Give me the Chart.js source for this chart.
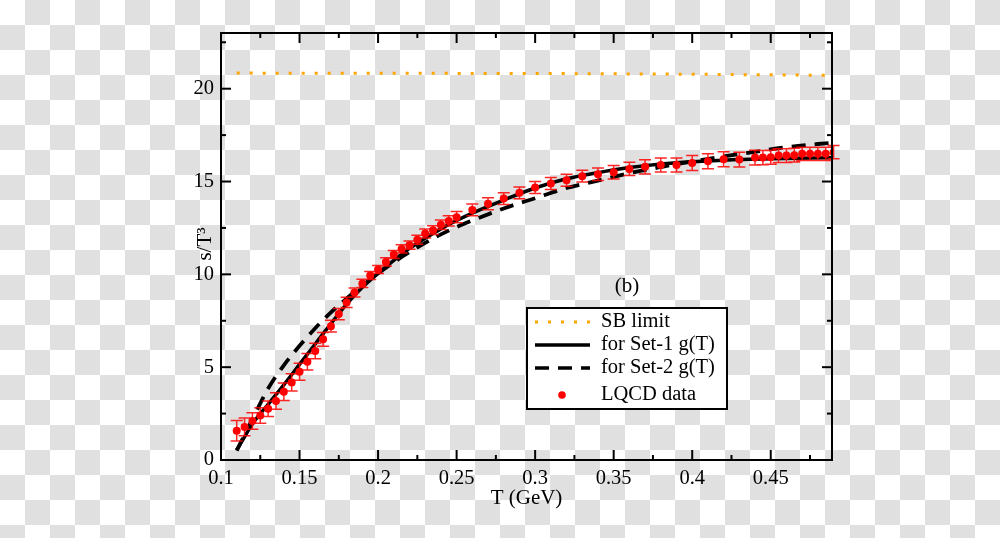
<!DOCTYPE html>
<html><head><meta charset="utf-8">
<script src="https://cdn.jsdelivr.net/npm/chart.js@4"></script>
<style>
html,body{margin:0;padding:0;}
body{width:1000px;height:538px;overflow:hidden;background:repeating-conic-gradient(#e0e0e0 0% 25%, #ffffff 0% 50%) 0 0/50px 50px;}
#wrap{position:relative;width:1000px;height:538px;}
</style></head><body><div id="wrap"><canvas id="c"></canvas></div>
<script>
// ---- data ----
const lqcdT = [0.110,0.115,0.120,0.125,0.130,0.135,0.140,0.145,0.150,0.155,0.160,0.165,0.170,0.175,0.180,0.185,0.190,0.195,0.200,0.205,0.210,0.215,0.220,0.225,0.230,0.235,0.240,0.245,0.250,
  0.26,0.27,0.28,0.29,0.30,0.31,0.32,0.33,0.34,0.35,0.36,0.37,0.38,0.39,0.40,0.41,0.42,0.43,0.44,
  0.445,0.450,0.455,0.460,0.465,0.470,0.475,0.480,0.485,0.490];
const lqcdS = [1.58,1.78,2.10,2.40,2.76,3.18,3.68,4.18,4.75,5.29,5.87,6.50,7.21,7.86,8.49,9.02,9.51,9.94,10.26,10.67,11.07,11.37,11.57,11.86,12.20,12.38,12.67,12.88,13.08,
  13.47,13.80,14.08,14.39,14.68,14.89,15.07,15.29,15.39,15.50,15.68,15.79,15.89,15.89,16.00,16.09,16.20,16.18,16.29,
  16.29,16.31,16.40,16.40,16.42,16.49,16.49,16.49,16.49,16.58];
const lqcdErr = [0.55,0.48,0.45,0.42,0.42,0.44,0.47,0.47,0.46,0.44,0.42,0.37,0.32,0.30,0.27,0.24,0.22,0.22,0.22,0.22,0.22,0.22,0.22,0.24,0.24,0.24,0.26,0.27,0.30,
  0.32,0.32,0.32,0.32,0.32,0.32,0.32,0.32,0.34,0.36,0.36,0.38,0.38,0.38,0.40,0.40,0.40,0.40,0.40,
  0.38,0.38,0.37,0.37,0.37,0.36,0.36,0.36,0.36,0.36];

const set1T = [0.11,0.115,0.12,0.13,0.14,0.15,0.16,0.17,0.18,0.19,0.20,0.21,0.22,0.23,0.24,0.25,0.26,0.28,0.30,0.32,0.34,0.36,0.38,0.40,0.42,0.45,0.49];
const set1S = [0.55,1.25,1.95,3.0,4.05,5.15,6.25,7.35,8.4,9.3,10.05,10.75,11.4,11.95,12.45,12.9,13.3,14.0,14.65,15.15,15.48,15.75,15.95,16.07,16.15,16.22,16.28];

const set2T = [0.11,0.12,0.13,0.14,0.15,0.16,0.17,0.18,0.19,0.20,0.21,0.22,0.23,0.24,0.25,0.26,0.28,0.30,0.32,0.34,0.36,0.38,0.40,0.42,0.44,0.46,0.49];
const set2S = [0.5,2.2,3.85,5.1,6.15,7.1,7.95,8.7,9.4,10.05,10.65,11.2,11.7,12.15,12.55,12.9,13.55,14.1,14.65,15.05,15.45,15.78,16.08,16.35,16.6,16.85,17.1];

const sbT = [0.11,0.30,0.40,0.489];
const sbS = [20.84,20.82,20.78,20.72];

const xTickValues = [0.10,0.15,0.20,0.25,0.30,0.35,0.40,0.45];
const xTickLabels = ["0.1","0.15","0.2","0.25","0.3","0.35","0.4","0.45"];
const xMinorTicks = [0.125,0.175,0.225,0.275,0.325,0.375,0.425,0.475];
const yTickValues = [0,5,10,15,20];
const yTickLabels = ["0","5","10","15","20"];
const yMinorTicks = [2.5,7.5,12.5,17.5,22.5];

const xTitle = "T (GeV)";
const yTitle = "s/T\u00B3";
const panelLabel = "(b)";
const legendLabels = ["SB limit","for Set-1 g(T)","for Set-2 g(T)","LQCD data"];

const FONT = "'Liberation Serif', 'Times New Roman', serif";
const zip = (a,b) => a.map((v,i)=>({x:v,y:b[i]}));

// ---- plugins ----
const errorBars = {
  id:'errorBars',
  beforeDatasetDraw(chart, args){
    if (args.index !== 0) return;
    const {ctx, scales:{x,y}} = chart;
    ctx.save();
    ctx.strokeStyle = 'rgba(255,0,0,0.85)';
    ctx.lineWidth = 1.5;
    ctx.beginPath();
    lqcdT.forEach((t,i)=>{
      const px = x.getPixelForValue(t);
      const p1 = y.getPixelForValue(lqcdS[i]-lqcdErr[i]);
      const p2 = y.getPixelForValue(lqcdS[i]+lqcdErr[i]);
      ctx.moveTo(px,p1); ctx.lineTo(px,p2);
      ctx.moveTo(px-6,p1); ctx.lineTo(px+6,p1);
      ctx.moveTo(px-6,p2); ctx.lineTo(px+6,p2);
    });
    ctx.stroke();
    ctx.restore();
  }
};

const decor = {
  id:'decor',
  afterDraw(chart){
    const {ctx, chartArea:a, scales:{x,y}} = chart;
    ctx.save();
    ctx.strokeStyle='#000'; ctx.lineWidth=2;
    ctx.strokeRect(a.left, a.top, a.right-a.left, a.bottom-a.top);
    const seg=(x1,y1,x2,y2)=>{ctx.beginPath();ctx.moveTo(x1,y1);ctx.lineTo(x2,y2);ctx.stroke();};
    const MAJ=10, MIN=5;
    xTickValues.forEach(v=>{const p=x.getPixelForValue(v); if(p>a.left+1){seg(p,a.bottom,p,a.bottom-MAJ); seg(p,a.top,p,a.top+MAJ);}});
    xMinorTicks.forEach(v=>{const p=x.getPixelForValue(v); seg(p,a.bottom,p,a.bottom-MIN); seg(p,a.top,p,a.top+MIN);});
    yTickValues.forEach(v=>{const p=y.getPixelForValue(v); if(p<a.bottom-1){seg(a.left,p,a.left+MAJ,p); seg(a.right,p,a.right-MAJ,p);}});
    yMinorTicks.forEach(v=>{const p=y.getPixelForValue(v); seg(a.left,p,a.left+MIN,p); seg(a.right,p,a.right-MIN,p);});

    ctx.fillStyle='#000';
    ctx.font = "21px "+FONT;
    ctx.textAlign='center'; ctx.textBaseline='middle';
    ctx.fillText(xTitle, (a.left+a.right)/2, 498);
    ctx.save();
    ctx.translate(205, 244);
    ctx.rotate(-Math.PI/2);
    ctx.fillText(yTitle, 0, 0);
    ctx.restore();

    ctx.fillText(panelLabel, 627, 286);

    const L=527, T=308, R=727, B=409;
    ctx.fillStyle='#fff';
    ctx.fillRect(L,T,R-L,B-T);
    ctx.lineWidth=2; ctx.strokeStyle='#000';
    ctx.strokeRect(L,T,R-L,B-T);
    const rows=[322,345,368,395];
    const x1=535, x2=590;
    ctx.save();
    ctx.strokeStyle='#ffa500'; ctx.lineWidth=3; ctx.setLineDash([3,10]);
    seg(x1,rows[0],x2,rows[0]);
    ctx.restore();
    ctx.save(); ctx.strokeStyle='#000'; ctx.lineWidth=3.5; seg(x1,rows[1],x2,rows[1]); ctx.restore();
    ctx.save(); ctx.strokeStyle='#000'; ctx.lineWidth=3.5; ctx.setLineDash([14,9]); seg(x1,rows[2],x2,rows[2]); ctx.restore();
    ctx.save(); ctx.fillStyle='#ff0000'; ctx.beginPath(); ctx.arc(562,rows[3],3.8,0,Math.PI*2); ctx.fill(); ctx.restore();
    ctx.fillStyle='#000'; ctx.textAlign='left'; ctx.textBaseline='middle';
    ctx.font="20.5px "+FONT;
    legendLabels.forEach((t,i)=>ctx.fillText(t, 601, rows[i]));
    ctx.restore();
  }
};

new Chart(document.getElementById('c'), {
  type:'scatter',
  data:{ datasets:[
    {label:legendLabels[3], data:zip(lqcdT,lqcdS), showLine:false, pointRadius:4, pointBackgroundColor:'#ff0000', pointBorderColor:'#ff0000', pointBorderWidth:0, order:0},
    {label:legendLabels[1], data:zip(set1T,set1S), showLine:true, borderColor:'#000', borderWidth:3.5, pointRadius:0, cubicInterpolationMode:'monotone', order:1},
    {label:legendLabels[2], data:zip(set2T,set2S), showLine:true, borderColor:'#000', borderWidth:3.8, borderDash:[14,9], pointRadius:0, cubicInterpolationMode:'monotone', order:1},
    {label:legendLabels[0], data:zip(sbT,sbS), showLine:true, borderColor:'#ffa500', borderWidth:3, borderDash:[3,10], borderCapStyle:'butt', pointRadius:0, order:1}
  ]},
  options:{
    responsive:true, maintainAspectRatio:false, animation:false, devicePixelRatio:1,
    layout:{padding:{left:0, top:33, right:168, bottom:0}},
    plugins:{legend:{display:false}, tooltip:{enabled:false}},
    scales:{
      x:{type:'linear', min:0.1, max:0.489,
        grid:{display:false, drawTicks:false}, border:{display:false},
        afterBuildTicks:s=>{s.ticks = xTickValues.map(v=>({value:v}));},
        afterFit:s=>{s.height = 78;},
        ticks:{padding:6, color:'#000', font:{family:FONT, size:20.5}, maxRotation:0, autoSkip:false,
          callback:(v,i)=>xTickLabels[i]}
      },
      y:{type:'linear', min:0, max:23,
        grid:{display:false, drawTicks:false}, border:{display:false},
        afterBuildTicks:s=>{s.ticks = yTickValues.map(v=>({value:v}));},
        afterFit:s=>{s.width = 221;},
        ticks:{padding:7, color:'#000', font:{family:FONT, size:20.5}, autoSkip:false,
          callback:(v,i)=>yTickLabels[i]}
      }
    }
  },
  plugins:[errorBars, decor]
});
</script></body></html>
